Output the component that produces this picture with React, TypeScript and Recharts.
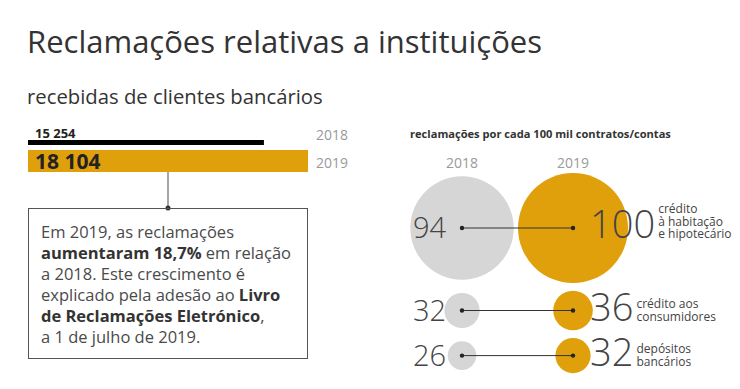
import React from "react";
import { BarChart, Bar, XAxis, YAxis, ScatterChart, Scatter } from "recharts";

// total complaints received
const years = ["2018", "2019"];
const totals = [15254, 18104];

// complaints per 100k contracts/accounts
const rateYears = [2018, 2019];
const categories = [
  ["crédito", "à habitação", "e hipotecário"],
  ["crédito aos", "consumidores"],
  ["depósitos", "bancários"],
];
const rates2018 = [94, 32, 26];
const rates2019 = [100, 36, 32];

const GOLD = "#E0A00B";
const GRAY = "#D6D6D6";
const FONT = '"Open Sans", "Noto Sans", sans-serif';

const PX_PER_UNIT = 0.55; // bubble radius per unit (same as y scale)
const ROW_GAP = 14;
const FIRST_ROW_Y = 228;
const PLOT_TOP = 170;
const PLOT_BOTTOM = 369;
const CHART_H = 389;

function fmtThousands(v: number) {
  return String(v).replace(/\B(?=(\d{3})+(?!\d))/g, " ");
}

const barData = years.map((year, i) => ({ year, value: totals[i] }));

// row centres stacked from the bubble sizes, in value units
const rowY: number[] = [];
categories.forEach((_, i) => {
  if (i === 0) {
    rowY.push(0);
    return;
  }
  const prev = Math.max(rates2018[i - 1], rates2019[i - 1]);
  const cur = Math.max(rates2018[i], rates2019[i]);
  rowY.push(rowY[i - 1] + prev + ROW_GAP + cur);
});

const yMin = -(FIRST_ROW_Y - PLOT_TOP) / PX_PER_UNIT;
const yMax = (PLOT_BOTTOM - FIRST_ROW_Y) / PX_PER_UNIT;

const data2018 = rates2018.map((v, i) => ({ x: rateYears[0], y: rowY[i], v }));
const data2019 = rates2019.map((v, i) => ({
  x: rateYears[1],
  y: rowY[i],
  v,
  lines: categories[i],
}));

function TotalBar(props: any) {
  const { x, y, width, height, index, payload } = props;
  const label = fmtThousands(payload.value);
  if (index === 0) {
    const top = y + height - 10;
    return (
      <g>
        <rect x={x} y={top} width={width} height={5} fill="#000" />
        <text x={x + 7} y={top - 2} fontSize={13} fontWeight={700} fill="#222">
          {label}
        </text>
      </g>
    );
  }
  const mid = x + width / 2;
  const bottom = y + height;
  return (
    <g>
      <rect x={x} y={y} width={width} height={height} fill={GOLD} />
      <text x={x + 7} y={bottom - 3} fontSize={21} fontWeight={700} fill="#222">
        {label}
      </text>
      <line x1={mid} y1={bottom} x2={mid} y2={bottom + 36} stroke="#888" strokeWidth={1.5} />
      <circle cx={mid} cy={bottom + 36} r={2.5} fill="#333" />
    </g>
  );
}

function YearTick(props: any) {
  const { x, y, payload, index } = props;
  return (
    <text
      x={x}
      y={y + (index === 0 ? -4 : 2)}
      dy="0.355em"
      fontSize={14}
      fill="#9a9a9a"
      textAnchor="start"
    >
      {payload.value}
    </text>
  );
}

function Bubble2018(props: any) {
  const { cx, cy, payload } = props;
  return (
    <g>
      <circle cx={cx} cy={cy} r={payload.v * PX_PER_UNIT} fill={GRAY} />
      <text x={cx - 16} y={cy + 10} textAnchor="end" fontSize={29} fontWeight={300} fill="#444">
        {payload.v}
      </text>
    </g>
  );
}

function Bubble2019(props: any) {
  const { cx, cy, payload } = props;
  const numSize = 38;
  const numX = cx + 17;
  const labelX = numX + String(payload.v).length * 0.572 * numSize + 3;
  const lines: string[] = payload.lines;
  return (
    <g>
      <circle cx={cx} cy={cy} r={payload.v * PX_PER_UNIT} fill={GOLD} />
      <text x={numX} y={cy + 10} fontSize={numSize} fontWeight={300} fill="#444">
        {payload.v}
      </text>
      {lines.map((t, i) => (
        <text
          key={t}
          x={labelX}
          y={cy + 10 - (lines.length - 1 - i) * 12.5}
          fontSize={12}
          fill="#444"
        >
          {t}
        </text>
      ))}
    </g>
  );
}

function CentreDot(props: any) {
  const { cx, cy } = props;
  return <circle cx={cx} cy={cy} r={2.2} fill="#222" />;
}

export default function App() {
  return (
    <div
      style={{
        position: "absolute",
        left: 0,
        top: 0,
        width: 740,
        height: CHART_H,
        background: "#fff",
        fontFamily: FONT,
        overflow: "hidden",
      }}
    >
      <div style={{ position: "absolute", left: 27, top: 20, fontSize: 31, color: "#333", whiteSpace: "nowrap" }}>
        Reclamações relativas a instituições
      </div>
      <div style={{ position: "absolute", left: 27, top: 82, fontSize: 20.3, color: "#333", whiteSpace: "nowrap" }}>
        recebidas de clientes bancários
      </div>

      <div style={{ position: "absolute", left: 0, top: 0 }}>
        <BarChart
          width={380}
          height={215}
          data={barData}
          layout="vertical"
          barCategoryGap={0}
          margin={{ top: 128, right: 12, bottom: 43, left: 28 }}
        >
          <XAxis type="number" dataKey="value" domain={[0, "dataMax"]} hide />
          <YAxis
            type="category"
            dataKey="year"
            orientation="right"
            width={60}
            interval={0}
            axisLine={false}
            tickLine={false}
            tick={YearTick}
          />
          <Bar dataKey="value" shape={TotalBar} isAnimationActive={false} />
        </BarChart>
      </div>

      <div
        style={{
          position: "absolute",
          left: 28,
          top: 208,
          width: 280,
          height: 151,
          boxSizing: "border-box",
          border: "1.5px solid #555",
          padding: "11.5px 12px",
          fontSize: 16.5,
          lineHeight: "21px",
          color: "#4a4a4a",
          whiteSpace: "nowrap",
        }}
      >
        Em 2019, as reclamações
        <br />
        <b style={{ color: "#333" }}>aumentaram 18,7%</b> em relação
        <br />
        a 2018. Este crescimento é
        <br />
        explicado pela adesão ao <b style={{ color: "#333" }}>Livro</b>
        <br />
        <b style={{ color: "#333" }}>de Reclamações Eletrónico</b>,
        <br />a 1 de julho de 2019.
      </div>

      <div
        style={{
          position: "absolute",
          left: 410,
          top: 126,
          fontSize: 11.1,
          fontWeight: 700,
          color: "#333",
          whiteSpace: "nowrap",
        }}
      >
        reclamações por cada 100 mil contratos/contas
      </div>

      <div style={{ position: "absolute", left: 390, top: 0 }}>
        <ScatterChart
          width={350}
          height={CHART_H}
          margin={{ top: PLOT_TOP - 30, right: 167, bottom: CHART_H - PLOT_BOTTOM, left: 72 }}
        >
          <XAxis
            type="number"
            dataKey="x"
            domain={[rateYears[0], rateYears[1]]}
            ticks={rateYears}
            orientation="top"
            height={30}
            axisLine={false}
            tickLine={false}
            tickSize={0}
            tickMargin={2}
            tick={{ fontSize: 14, fill: "#9a9a9a" }}
          />
          <YAxis type="number" dataKey="y" domain={[yMin, yMax]} reversed hide />
          <Scatter data={data2018} shape={Bubble2018} isAnimationActive={false} />
          <Scatter data={data2019} shape={Bubble2019} isAnimationActive={false} />
          {rowY.map((y, i) => (
            <Scatter
              key={i}
              data={rateYears.map((x) => ({ x, y }))}
              line={{ stroke: "#333", strokeWidth: 1 }}
              shape={CentreDot}
              isAnimationActive={false}
            />
          ))}
        </ScatterChart>
      </div>
    </div>
  );
}
